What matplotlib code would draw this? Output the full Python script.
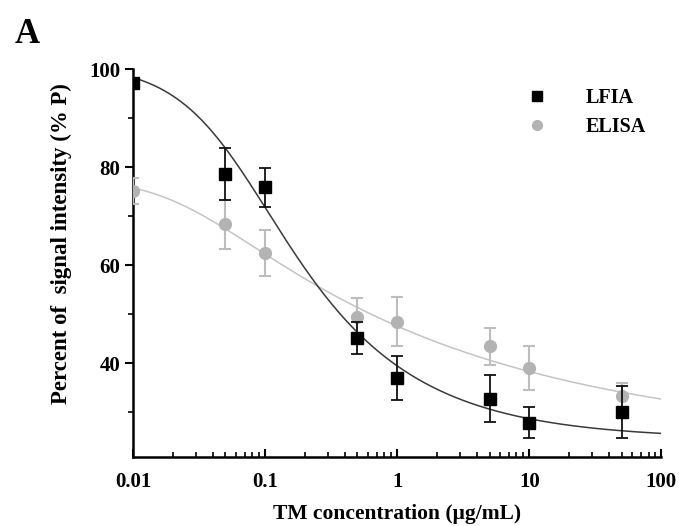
import matplotlib
matplotlib.use("Agg")
import matplotlib.pyplot as plt
from matplotlib.lines import Line2D
from matplotlib.ticker import FixedLocator, NullFormatter
import numpy as np

conc = [0.01, 0.05, 0.1, 0.5, 1, 5, 10, 50]
lfia = [97.3, 78.6, 75.9, 45.1, 36.9, 32.7, 27.8, 30.1]
lfia_err = [1.0, 5.3, 4.0, 3.2, 4.5, 4.8, 3.2, 5.3]
elisa = [75.2, 68.4, 62.4, 49.5, 48.5, 43.4, 39.0, 33.2]
elisa_err = [2.7, 5.0, 4.7, 3.9, 5.1, 3.8, 4.4, 2.7]

# logistic fit parameters (A top, D bottom, C, B slope, G asymmetry)
lfia_fit = [101.0, 24.5, 0.0547, 1.4, 0.4]
elisa_fit = [78.0, 24.0, 0.0221, 1.45, 0.15]

xticks = [0.01, 0.1, 1, 10, 100]
xticklabels = ["0.01", "0.1", "1", "10", "100"]
yticks = [40, 60, 80, 100]


def logistic5(x, p):
    a, d, c, b, g = p
    return d + (a - d) / (1 + (x / c) ** b) ** g


plt.rcParams['font.family'] = ['Liberation Serif', 'DejaVu Serif']
plt.rcParams['font.weight'] = 'bold'

fig = plt.figure(figsize=(6.79, 5.26), dpi=100)
ax = fig.add_axes([0.196, 0.131, 0.778, 0.737])

xs = np.logspace(-2, 2, 400)
ax.plot(xs, logistic5(xs, elisa_fit), color='#c4c4c4', lw=1.1, zorder=2)
ax.plot(xs, logistic5(xs, lfia_fit), color='#3a3a3a', lw=1.1, zorder=3)

ax.errorbar(conc, elisa, yerr=elisa_err, fmt='o', color='#b3b3b3', ecolor='#bdbdbd',
            ms=8.5, elinewidth=1.5, capsize=4, capthick=1.5, zorder=4)
ax.errorbar(conc, lfia, yerr=lfia_err, fmt='s', color='black', ecolor='#111111',
            ms=8, elinewidth=1.3, capsize=4, capthick=1.3, zorder=5)

ax.set_xscale('log')
ax.set_xlim(0.01, 100)
ax.set_ylim(20.8, 100)
ax.set_xticks(xticks)
ax.set_xticklabels(xticklabels)
ax.xaxis.set_minor_formatter(NullFormatter())
ax.set_yticks(yticks)
ax.yaxis.set_minor_locator(FixedLocator([30, 50, 70, 90]))

for s in ['top', 'right']:
    ax.spines[s].set_visible(False)
for s in ['left', 'bottom']:
    ax.spines[s].set_linewidth(1.8)

ax.tick_params(axis='x', which='major', direction='in', length=6, width=1.5, labelsize=15, pad=11)
ax.tick_params(axis='x', which='minor', direction='in', length=3.5, width=1.2)
ax.tick_params(axis='y', which='major', direction='out', length=6, width=1.5, labelsize=15, pad=3)
ax.tick_params(axis='y', which='minor', direction='out', length=3.5, width=1.2)

ax.set_xlabel('TM concentration (\u03bcg/mL)', fontsize=15.5, fontweight='bold')
ax.set_ylabel('Percent of  signal intensity (% P)', fontsize=16.5, fontweight='bold')
ax.xaxis.set_label_coords(0.5, -0.122)
ax.yaxis.set_label_coords(-0.115, 0.55)

handles = [Line2D([], [], marker='s', ls='none', color='black', ms=7),
           Line2D([], [], marker='o', ls='none', color='#b3b3b3', ms=7)]
ax.legend(handles, ['LFIA', 'ELISA'], loc='upper left', bbox_to_anchor=(0.693, 1.0),
          frameon=False, handletextpad=1.4, labelspacing=0.45,
          prop={'weight': 'bold', 'size': 14.5})

fig.text(0.022, 0.918, 'A', fontsize=25, fontweight='bold')

fig.savefig('out.png', dpi=100)
